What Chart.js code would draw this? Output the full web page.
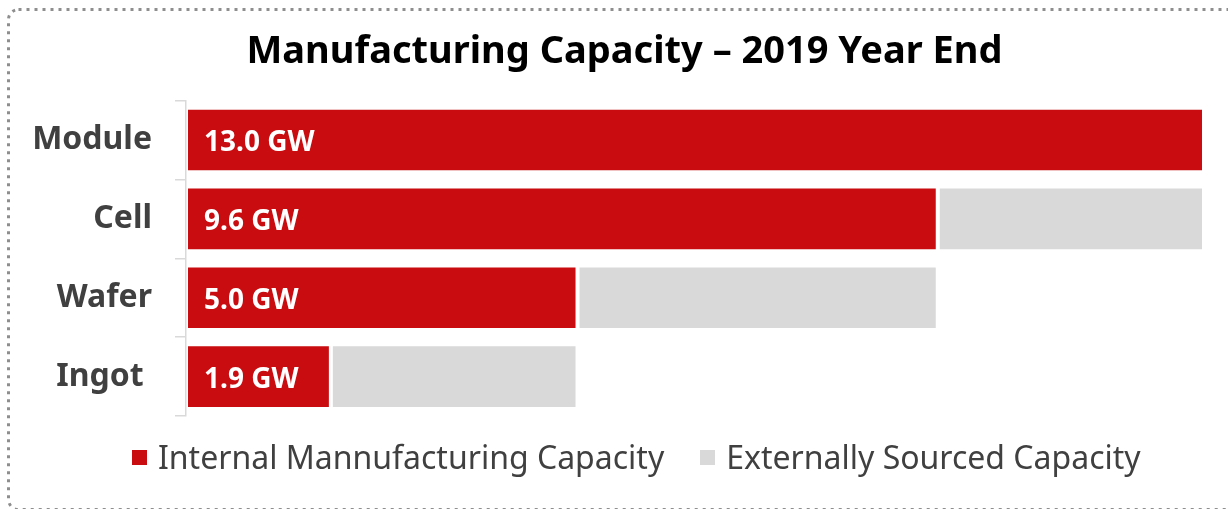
<!DOCTYPE html>
<html>
<head>
<meta charset="utf-8">
<title>Manufacturing Capacity</title>
<script src="https://cdn.jsdelivr.net/npm/chart.js@4.4.1/dist/chart.umd.min.js"></script>
<style>
  html, body { margin: 0; padding: 0; background: #fff; overflow: hidden; }
  #wrap { position: relative; width: 1228px; height: 509px; overflow: hidden; }
  #frame, #chart { position: absolute; left: 0; top: 0; }
  #legend {
    position: absolute; left: 132px; top: 441px;
    display: flex; align-items: center; white-space: nowrap;
    font: 32px 'Noto Sans', sans-serif; line-height: 32px; color: #404040;
  }
  .legend-item { display: flex; align-items: center; margin-right: 36px; }
  .legend-swatch { width: 15px; height: 15px; margin-right: 11px; }
</style>
</head>
<body>
<div id="wrap">
  <svg id="frame" width="1228" height="509">
    <rect x="8.5" y="9.5" width="1260" height="500" rx="10" fill="none"
          stroke="#8e8e8e" stroke-width="3" stroke-dasharray="3 5"/>
  </svg>
  <canvas id="chart" width="1249" height="509"></canvas>
  <div id="legend"></div>
</div>
<script>
// ── Data ──────────────────────────────────────────────────────────────────
const categories = ['Module', 'Cell', 'Wafer', 'Ingot '];
const internalGW = [13.0, 9.6, 5.0, 1.85];
const externalGW = [0, 3.4, 4.6, 3.15];
const internalLabels = ['13.0 GW', '9.6 GW', '5.0 GW', '1.9 GW'];
const seriesNames = ['Internal Mannufacturing Capacity', 'Externally Sourced Capacity'];
const axisMax = 13;

const RED = '#c80c0f';
const GREY = '#d9d9d9';
const FONT = "'Noto Sans', sans-serif";

// ── Value labels inside the red bars ──────────────────────────────────────
const barLabels = {
  id: 'barLabels',
  afterDatasetsDraw(chart) {
    const { ctx } = chart;
    const meta = chart.getDatasetMeta(0);
    const x0 = chart.scales.x.getPixelForValue(0);
    ctx.save();
    ctx.font = `bold 28px ${FONT}`;
    ctx.fillStyle = '#fff';
    ctx.textBaseline = 'middle';
    meta.data.forEach((bar, i) => {
      ctx.fillText(internalLabels[i], x0 + 18, bar.y + 3);
    });
    ctx.restore();
  }
};

const colors = [RED, GREY];

new Chart(document.getElementById('chart'), {
  type: 'bar',
  data: {
    labels: categories,
    datasets: [
      { label: seriesNames[0], data: internalGW, backgroundColor: RED },
      { label: seriesNames[1], data: externalGW, backgroundColor: GREY },
    ].map(ds => Object.assign(ds, {
      borderColor: '#fff',
      borderWidth: 2,
      borderSkipped: false,
      barPercentage: 0.82,
      categoryPercentage: 1,
    })),
  },
  options: {
    indexAxis: 'y',
    responsive: false,
    animation: false,
    layout: { padding: { left: 0, right: 0, top: 0, bottom: 93 } },
    plugins: {
      legend: { display: false },
      tooltip: { enabled: false },
      title: {
        display: true,
        text: 'Manufacturing Capacity – 2019 Year End',
        color: '#000',
        font: { family: FONT, size: 38, weight: 'bold' },
        padding: { top: 29, bottom: 26 },
      },
    },
    scales: {
      x: { stacked: true, display: false, min: 0, max: axisMax },
      y: {
        stacked: true,
        afterFit(scale) { scale.width = 186; },
        grid: { offset: true, drawOnChartArea: false, tickLength: 11, color: GREY, lineWidth: 1.5 },
        border: { display: true, color: GREY, width: 1.5, z: 1 },
        ticks: { padding: 23, color: '#404040', font: { family: FONT, size: 32, weight: 'bold' } },
      },
      // empty right-hand spacer so the title centres like the original (canvas runs past the page edge)
      yRight: {
        type: 'category',
        position: 'right',
        labels: categories,
        afterFit(scale) { scale.width = 45; },
        grid: { display: false },
        border: { display: false },
        ticks: { display: false },
      },
    },
  },
  plugins: [barLabels],
});

// ── HTML legend ───────────────────────────────────────────────────────────
document.getElementById('legend').innerHTML = seriesNames.map((name, i) => `
  <div class="legend-item">
    <span class="legend-swatch" style="background:${colors[i]}"></span>
    <span>${name}</span>
  </div>`).join('');
</script>
</body>
</html>
